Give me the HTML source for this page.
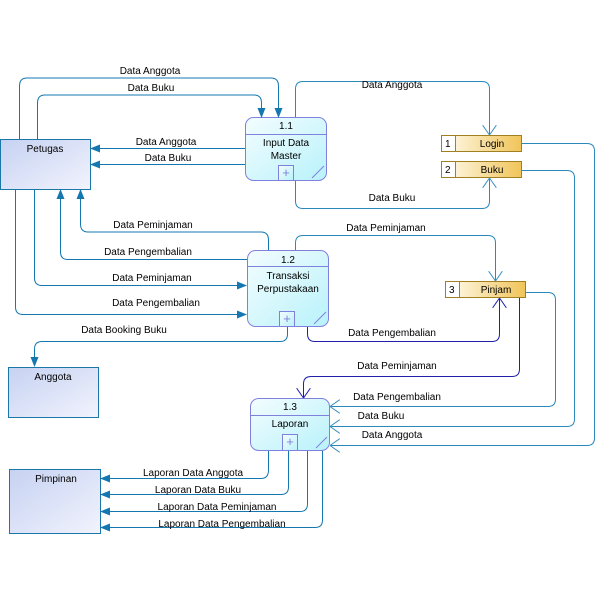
<!DOCTYPE html>
<html><head><meta charset="utf-8"><style>
html,body{margin:0;padding:0;background:#fff;}
svg{display:block;}
text{font-family:"Liberation Sans",Arial,sans-serif;font-size:10px;fill:#000;}
</style></head><body>
<svg width="600" height="600" viewBox="0 0 600 600" xmlns="http://www.w3.org/2000/svg">
<defs>
<linearGradient id="ent" x1="0" y1="0" x2="1" y2="1"><stop offset="0" stop-color="#c6d2f2"/><stop offset="1" stop-color="#f2f3fd"/></linearGradient>
<linearGradient id="proc" x1="0" y1="0" x2="1" y2="1"><stop offset="0" stop-color="#f4fdfe"/><stop offset="1" stop-color="#b8f2fb"/></linearGradient>
<linearGradient id="st" x1="0" y1="0" x2="1" y2="0"><stop offset="0" stop-color="#fffcf0"/><stop offset="1" stop-color="#f0c458"/></linearGradient>
<marker id="fa" markerWidth="10" markerHeight="8" refX="9" refY="4" orient="auto" markerUnits="userSpaceOnUse"><path d="M0,0 L10,4 L0,8 Z" fill="#1577b0"/></marker>
<marker id="oa" markerWidth="10" markerHeight="14" refX="10" refY="7" orient="auto" markerUnits="userSpaceOnUse"><path d="M0,0 L10,7 L0,14" fill="none" stroke="#3a90c0" stroke-width="1"/></marker>
<marker id="ob" markerWidth="10" markerHeight="14" refX="10" refY="7" orient="auto" markerUnits="userSpaceOnUse"><path d="M0,0 L10,7 L0,14" fill="none" stroke="#2020b0" stroke-width="1"/></marker>
</defs>

<rect x="0.5" y="139.5" width="90" height="50" fill="url(#ent)" stroke="#1b77a8"/>
<text x="45" y="152" text-anchor="middle">Petugas</text>
<rect x="8.5" y="367.5" width="90" height="50" fill="url(#ent)" stroke="#1b77a8"/>
<text x="53" y="380" text-anchor="middle">Anggota</text>
<rect x="9.5" y="469.5" width="91" height="64" fill="url(#ent)" stroke="#1b77a8"/>
<text x="56" y="482" text-anchor="middle">Pimpinan</text>

<g stroke="#8080dd" fill="none">
<rect x="245.5" y="117.5" width="81" height="63" rx="8" fill="url(#proc)"/>
<line x1="245.5" y1="134.5" x2="326.5" y2="134.5"/>
<rect x="278.5" y="165.5" width="15" height="15" fill="url(#proc)"/>
<line x1="312" y1="178" x2="324" y2="166"/>
<rect x="247.5" y="250.5" width="81" height="76" rx="8" fill="url(#proc)"/>
<line x1="247.5" y1="266.5" x2="328.5" y2="266.5"/>
<rect x="279.5" y="311.5" width="15" height="15" fill="url(#proc)"/>
<line x1="314" y1="324" x2="326" y2="312"/>
<rect x="250.5" y="398.5" width="79" height="52" rx="8" fill="url(#proc)"/>
<line x1="250.5" y1="415.5" x2="329.5" y2="415.5"/>
<rect x="282.5" y="434.5" width="15" height="16" fill="url(#proc)"/>
<line x1="316" y1="448" x2="327" y2="437"/>
</g>
<text x="286" y="177" text-anchor="middle" style="font-size:13px;fill:#8080dd">+</text>
<text x="287" y="323" text-anchor="middle" style="font-size:13px;fill:#8080dd">+</text>
<text x="290" y="446" text-anchor="middle" style="font-size:13px;fill:#8080dd">+</text>
<text x="286" y="129" text-anchor="middle">1.1</text>
<text x="286" y="146" text-anchor="middle">Input Data</text>
<text x="286" y="159" text-anchor="middle">Master</text>
<text x="288" y="263" text-anchor="middle">1.2</text>
<text x="288" y="279" text-anchor="middle">Transaksi</text>
<text x="288" y="292" text-anchor="middle">Perpustakaan</text>
<text x="290" y="410" text-anchor="middle">1.3</text>
<text x="290" y="427" text-anchor="middle">Laporan</text>

<g stroke="#a08020">
<rect x="441.5" y="135.5" width="80" height="16" fill="url(#st)"/><rect x="441.5" y="135.5" width="14" height="16" fill="#fff"/>
<rect x="441.5" y="161.5" width="80" height="16" fill="url(#st)"/><rect x="441.5" y="161.5" width="14" height="16" fill="#fff"/>
<rect x="445.5" y="281.5" width="80" height="16" fill="url(#st)"/><rect x="445.5" y="281.5" width="14" height="16" fill="#fff"/>
</g>
<text x="445" y="147">1</text><text x="492" y="147" text-anchor="middle">Login</text>
<text x="445" y="173">2</text><text x="492" y="173" text-anchor="middle">Buku</text>
<text x="449" y="293">3</text><text x="496" y="293" text-anchor="middle">Pinjam</text>

<g fill="none" stroke="#1577b0" stroke-width="1">
<path d="M19.5,139 V86 Q19.5,78 27,78 H271 Q278.5,78 278.5,86 V117" marker-end="url(#fa)"/>
<path d="M37.5,139 V103 Q37.5,95 45,95 H254 Q261.5,95 261.5,103 V117" marker-end="url(#fa)"/>
<path d="M245,148.5 H91" marker-end="url(#fa)"/>
<path d="M245,164.5 H91" marker-end="url(#fa)"/>
<path d="M268.5,250 V240 Q268.5,232 261,232 H88 Q80.5,232 80.5,224 V190" marker-end="url(#fa)"/>
<path d="M247,259.5 H68 Q60.5,259.5 60.5,252 V190" marker-end="url(#fa)"/>
<path d="M34.5,190 V278 Q34.5,285.5 42,285.5 H246" marker-end="url(#fa)"/>
<path d="M15.5,190 V307 Q15.5,314.5 23,314.5 H246" marker-end="url(#fa)"/>
<path d="M287.5,327 V334 Q287.5,341.5 280,341.5 H42 Q34.5,341.5 34.5,349 V366" marker-end="url(#fa)"/>
<path d="M268.5,451 V470 Q268.5,478.5 261,478.5 H101" marker-end="url(#fa)"/>
<path d="M288.5,451 V487 Q288.5,494.5 281,494.5 H101" marker-end="url(#fa)"/>
<path d="M307.5,451 V504 Q307.5,511.5 300,511.5 H101" marker-end="url(#fa)"/>
<path d="M322.5,451 V520 Q322.5,527.5 315,527.5 H101" marker-end="url(#fa)"/>
</g>
<g fill="none" stroke="#2a88bb" stroke-width="1">
<path d="M295.5,117 V89 Q295.5,81.5 303,81.5 H482 Q489.5,81.5 489.5,89 V135" marker-end="url(#oa)"/>
<path d="M295.5,181 V201 Q295.5,208.5 303,208.5 H482 Q489.5,208.5 489.5,201 V178" marker-end="url(#oa)"/>
<path d="M295.5,250 V243 Q295.5,235.5 303,235.5 H488 Q495.5,235.5 495.5,243 V281" marker-end="url(#oa)"/>
<path d="M526,292.5 H548 Q555.5,292.5 555.5,300 V399 Q555.5,406.5 548,406.5 H330" marker-end="url(#oa)"/>
<path d="M522,170.5 H567 Q574.5,170.5 574.5,178 V419 Q574.5,426.5 567,426.5 H330" marker-end="url(#oa)"/>
<path d="M522,143.5 H587 Q594.5,143.5 594.5,151 V438 Q594.5,445.5 587,445.5 H330" marker-end="url(#oa)"/>
</g>
<g fill="none" stroke="#2020a8" stroke-width="1">
<path d="M307.5,327 V334 Q307.5,341.5 315,341.5 H492 Q499.5,341.5 499.5,334 V298" marker-end="url(#ob)"/>
<path d="M519.5,298 V369 Q519.5,376.5 512,376.5 H311 Q303.5,376.5 303.5,384 V398" marker-end="url(#ob)"/>
</g>

<g text-anchor="middle">
<text x="150" y="74">Data Anggota</text>
<text x="151" y="91">Data Buku</text>
<text x="166" y="145">Data Anggota</text>
<text x="168" y="161">Data Buku</text>
<text x="392" y="88">Data Anggota</text>
<text x="392" y="201">Data Buku</text>
<text x="153" y="228">Data Peminjaman</text>
<text x="148" y="255">Data Pengembalian</text>
<text x="152" y="281">Data Peminjaman</text>
<text x="156" y="306">Data Pengembalian</text>
<text x="124" y="333">Data Booking Buku</text>
<text x="386" y="231">Data Peminjaman</text>
<text x="392" y="336">Data Pengembalian</text>
<text x="397" y="369">Data Peminjaman</text>
<text x="397" y="400">Data Pengembalian</text>
<text x="381" y="419">Data Buku</text>
<text x="392" y="438">Data Anggota</text>
<text x="193" y="476">Laporan Data Anggota</text>
<text x="198" y="493">Laporan Data Buku</text>
<text x="217" y="510">Laporan Data Peminjaman</text>
<text x="222" y="527">Laporan Data Pengembalian</text>
</g>
</svg>
</body></html>
